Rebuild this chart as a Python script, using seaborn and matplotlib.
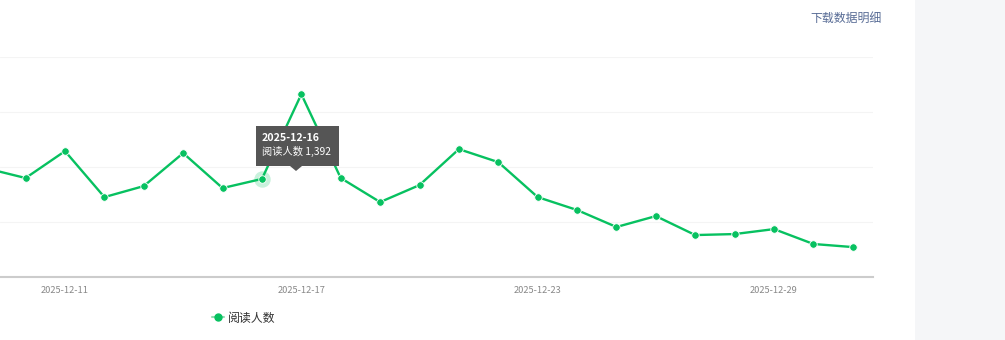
import matplotlib
matplotlib.use('Agg')
import matplotlib.pyplot as plt
import seaborn as sns
import pandas as pd
from matplotlib.patches import Rectangle, Polygon
from matplotlib.lines import Line2D

# ---- data ----
dates = ['2025-12-09', '2025-12-10', '2025-12-11', '2025-12-12', '2025-12-13',
         '2025-12-14', '2025-12-15', '2025-12-16', '2025-12-17', '2025-12-18',
         '2025-12-19', '2025-12-20', '2025-12-21', '2025-12-22', '2025-12-23',
         '2025-12-24', '2025-12-25', '2025-12-26', '2025-12-27', '2025-12-28',
         '2025-12-29', '2025-12-30', '2025-12-31']
readers = [1488, 1400, 1644, 1227, 1327, 1626, 1309, 1392, 2160, 1400,
           1182, 1336, 1662, 1544, 1227, 1110, 956, 1055, 883, 892,
           937, 802, 774]
tick_labels = ['2025-12-11', '2025-12-17', '2025-12-23', '2025-12-29']
y_grid = [500, 1000, 1500, 2000, 2500]
series_name = '阅读人数'
tooltip_date = '2025-12-16'
link_text = '下载数据明细'

GREEN = '#07c160'

sns.set_theme(style='white')
plt.rcParams['font.family'] = ['Noto Sans CJK SC', 'DejaVu Sans']

W, H = 1005, 340
fig = plt.figure(figsize=(W / 100, H / 100), dpi=100)
fig.patch.set_facecolor('white')

# right grey panel
fig.patches.append(Rectangle((915 / W, 0), 90 / W, 1, transform=fig.transFigure,
                             facecolor='#f5f6f8', edgecolor='none', zorder=0))

ax_bottom_px, ax_top_px = 277.3, 56.7
ax = fig.add_axes([0, (H - ax_bottom_px) / H, 872.5 / W, (ax_bottom_px - ax_top_px) / H])
ax.set_facecolor('none')

df = pd.DataFrame({'date': dates, 'value': readers})
sns.lineplot(data=df, x='date', y='value', ax=ax, color=GREEN, linewidth=1.7,
             marker='o', markersize=5.4, markeredgecolor='white',
             markeredgewidth=0.6, zorder=3)

# highlighted point halo
idx = dates.index(tooltip_date)
ax.scatter([idx], [readers[idx]], s=140, color=GREEN, alpha=0.22, linewidths=0, zorder=2)

step = 39.39
x0 = 65 - 2 * step
ax.set_xlim((0 - x0) / step, (872.5 - x0) / step)
ax.set_ylim(y_grid[0], y_grid[-1])

ax.set_yticks(y_grid)
ax.set_yticklabels([])
ax.yaxis.grid(True, color='#f4f4f4', linewidth=0.8)
ax.xaxis.grid(False)
ax.set_xticks([dates.index(t) for t in tick_labels])
ax.set_xticklabels(tick_labels, fontsize=6.7, color='#888888')
ax.tick_params(axis='both', length=0)
ax.tick_params(axis='x', pad=6)
ax.set_xlabel('')
ax.set_ylabel('')
for s in ['top', 'left', 'right']:
    ax.spines[s].set_visible(False)
ax.spines['bottom'].set_color('#cccccc')
ax.spines['bottom'].set_linewidth(1.5)


def fx(px):
    return px / W


def fy(py):
    return 1 - py / H


# tooltip
L, R, T, B = 256, 339, 126, 166
fig.patches.append(Rectangle((fx(L), fy(B)), fx(R - L), (B - T) / H, transform=fig.transFigure,
                             facecolor='#555555', edgecolor='none', zorder=10))
fig.patches.append(Polygon([(fx(290), fy(B)), (fx(302), fy(B)), (fx(296), fy(171))],
                           closed=True, transform=fig.transFigure,
                           facecolor='#555555', edgecolor='none', zorder=10))
fig.text(fx(262), fy(138), tooltip_date, fontsize=7.7, fontweight='bold',
         color='white', va='center', ha='left', zorder=11)
fig.text(fx(262), fy(151.5), f'{series_name} {readers[idx]:,}', fontsize=7.4,
         color='white', va='center', ha='left', zorder=11)

# top-right link
fig.text(fx(882), fy(18), link_text, fontsize=8.6, color='#576b95',
         ha='right', va='center')

# legend
handle = Line2D([], [], color='#8fdcb0', linewidth=1.5, marker='o',
                markersize=5, markerfacecolor=GREEN, markeredgecolor=GREEN)
leg = fig.legend([handle], [series_name], loc='center left',
                 bbox_to_anchor=(fx(212), fy(318)), frameon=False, fontsize=8.6,
                 handlelength=1.0, handletextpad=0.35, borderpad=0, borderaxespad=0)
for t in leg.get_texts():
    t.set_color('#333333')

fig.savefig('out.png', dpi=100, facecolor='white')
